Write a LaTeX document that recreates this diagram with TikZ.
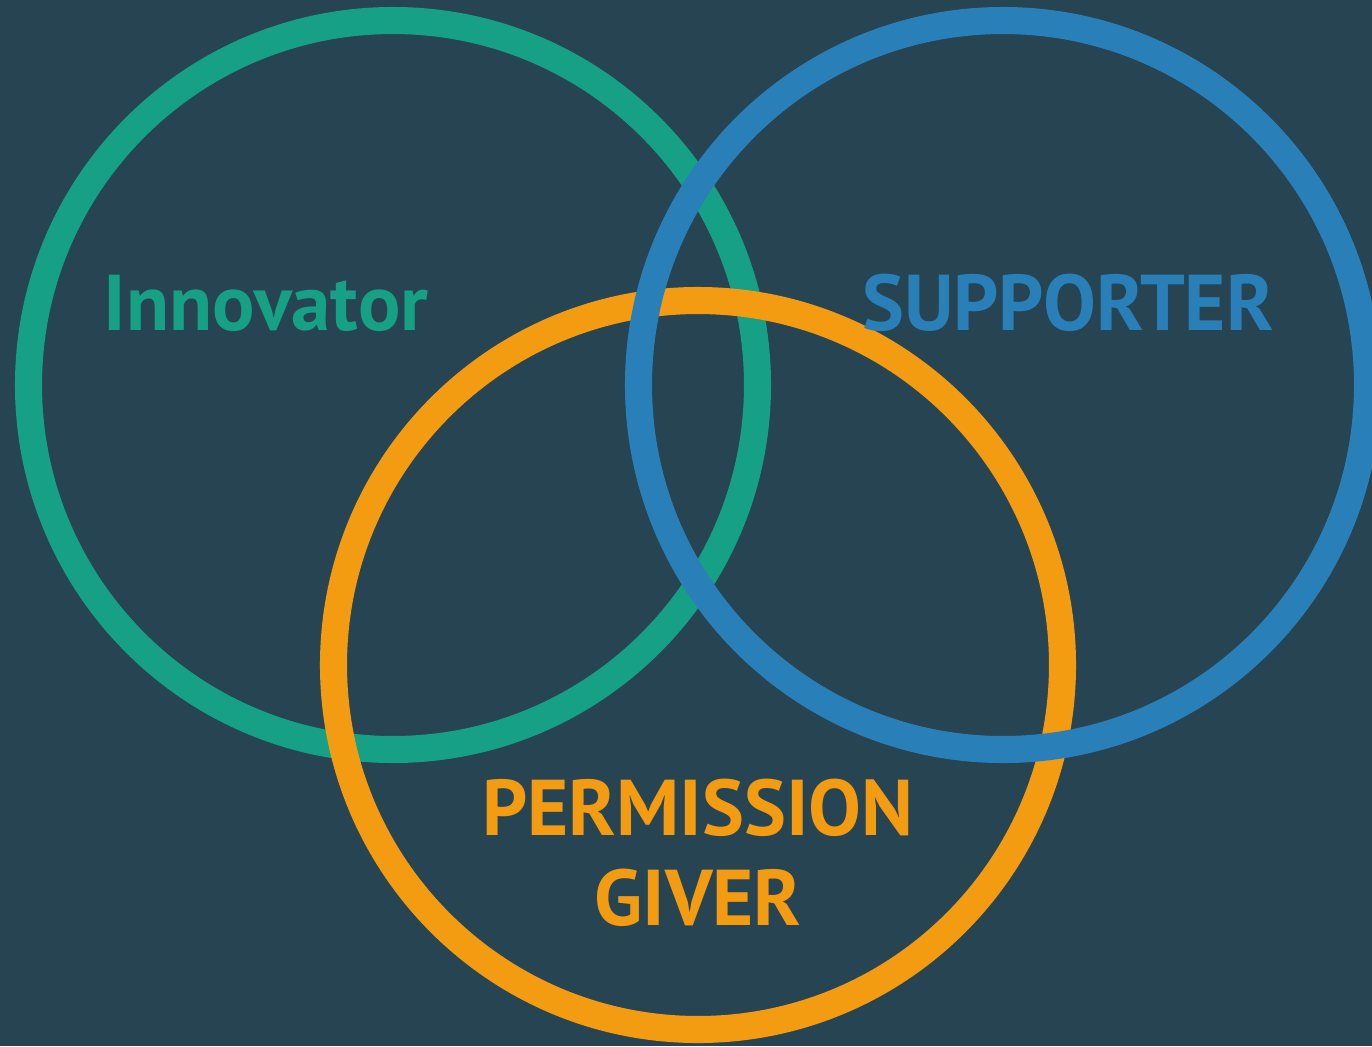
\documentclass[tikz,border=0pt]{standalone}
\usepackage{fontspec}
\setmainfont{PT Sans}
\definecolor{slate}{HTML}{274452}
\definecolor{seagreen}{HTML}{16A085}
\definecolor{belize}{HTML}{2980B9}
\definecolor{amber}{HTML}{F39C12}
\tikzset{
 ring/.style={line width=15.4pt},
 lbl/.style={font=\fontsize{45}{51.2}\selectfont\bfseries, inner sep=0pt, anchor=base, align=center}
}

\begin{document}
\begin{tikzpicture} [x=0.02cm, y=-0.02cm]
\fill[slate] (0,0) rectangle (1372,1046);
\useasboundingbox (0,0) rectangle (1372,1046);
\clip (0,0) rectangle (1372,1046);
% rings, drawn bottom to top
\foreach \c/\x/\y in {seagreen/393/385, amber/698/665, belize/1003/385} {
 \draw[ring, \c] (\x,\y) circle (364.5);
}
\node[lbl, text=seagreen] (innov) at (266,330) {Innovator};
\node[lbl, text=belize] (supp) at (1068,330) {SUPPORTER};
\node[lbl, text=amber] (perm) at (698,925) {PERMISSION\\GIVER};
\end{tikzpicture}
\end{document}
